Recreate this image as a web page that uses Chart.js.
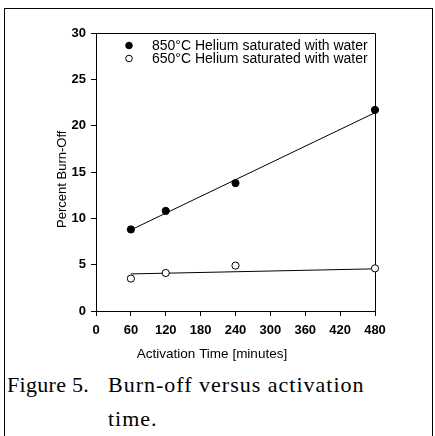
<!DOCTYPE html>
<html>
<head>
<meta charset="utf-8">
<script src="https://cdn.jsdelivr.net/npm/chart.js@4/dist/chart.umd.min.js"></script>
<style>
  html, body { margin: 0; padding: 0; background: #fff; width: 435px; height: 436px; overflow: hidden; }
  #frame { position: absolute; left: 4px; top: 8px; width: 427px; height: 460px;
           border-left: 1px solid #000; border-top: 1px solid #000; border-right: 1px solid #000; }
  #c { position: absolute; left: 0; top: 0; }
  .cap { position: absolute; font-family: "Liberation Serif", "Times New Roman", serif; font-size: 22px;
         letter-spacing: 1px; line-height: 22px; color: #000; white-space: nowrap; }
</style>
</head>
<body>
<div id="frame"></div>
<canvas id="c" width="435" height="370"></canvas>
<div class="cap" style="left:7px; top:374px; letter-spacing:0.3px;">Figure 5.</div>
<div class="cap" style="left:108px; top:374px;">Burn-off versus activation</div>
<div class="cap" style="left:108px; top:408px;">time.</div>
<script>
// ---- data ----
const times = [60, 120, 240, 480];
const burn850 = [8.8, 10.8, 13.8, 21.7];
const burn650 = [3.5, 4.1, 4.9, 4.6];
const fitTimes = [60, 480];
const fit850 = [8.75, 21.4];
const fit650 = [4.0, 4.55];
const seriesLabels = ["850°C Helium saturated with water", "650°C Helium saturated with water"];
const xTitle = "Activation Time [minutes]";
const yTitle = "Percent Burn-Off    ";
const xMin = 0, xMax = 480, xStep = 60;
const yMin = 0, yMax = 30, yStep = 5;

const toXY = (xs, ys) => xs.map((x, i) => ({ x: x, y: ys[i] }));
const SANS = '"Liberation Sans", Arial, Helvetica, sans-serif';

const framePlugin = {
  id: 'frameBox',
  beforeDatasetsDraw(chart) {
    const a = chart.chartArea, ctx = chart.ctx;
    ctx.save();
    ctx.strokeStyle = '#000';
    ctx.lineWidth = 1;
    ctx.beginPath();
    ctx.moveTo(Math.round(a.left) + 0.5, Math.round(a.top) + 0.5);
    ctx.lineTo(Math.round(a.right) + 0.5, Math.round(a.top) + 0.5);
    ctx.lineTo(Math.round(a.right) + 0.5, Math.round(a.bottom) + 0.5);
    ctx.stroke();
    ctx.restore();
  }
};

// x-axis title: in the original it sits left of the plot centre
const xTitlePlugin = {
  id: 'xTitleOffset',
  afterDraw(chart) {
    const a = chart.chartArea, ctx = chart.ctx;
    ctx.save();
    ctx.font = '13.5px ' + SANS;
    ctx.fillStyle = '#000';
    ctx.textAlign = 'center';
    ctx.textBaseline = 'middle';
    ctx.fillText(xTitle, a.left + 116, a.bottom + 43);
    ctx.restore();
  }
};

const legendPlugin = {
  id: 'innerLegend',
  afterDraw(chart) {
    const a = chart.chartArea, ctx = chart.ctx;
    const rows = [
      { ds: chart.data.datasets[0], y: a.top + 12.5 },
      { ds: chart.data.datasets[1], y: a.top + 25.5 }
    ];
    ctx.save();
    ctx.font = '14px ' + SANS;
    ctx.textBaseline = 'middle';
    ctx.textAlign = 'left';
    rows.forEach(r => {
      const mx = a.left + 33;
      ctx.beginPath();
      ctx.arc(mx, r.y, 3.3, 0, Math.PI * 2);
      ctx.fillStyle = r.ds.backgroundColor;
      ctx.fill();
      ctx.lineWidth = 1;
      ctx.strokeStyle = '#000';
      ctx.stroke();
      ctx.fillStyle = '#000';
      ctx.fillText(r.ds.label, a.left + 56, r.y + 1);
    });
    ctx.restore();
  }
};

new Chart(document.getElementById('c'), {
  type: 'scatter',
  data: {
    datasets: [
      { label: seriesLabels[0], data: toXY(times, burn850), backgroundColor: '#000', borderColor: '#000',
        borderWidth: 1, pointRadius: 3.6, order: 1, clip: false },
      { label: seriesLabels[1], data: toXY(times, burn650), backgroundColor: '#fff', borderColor: '#000',
        borderWidth: 1, pointRadius: 3.6, order: 1, clip: false },
      { label: 'fit850', data: toXY(fitTimes, fit850), showLine: true, borderColor: '#000', borderWidth: 1,
        pointRadius: 0, order: 2 },
      { label: 'fit650', data: toXY(fitTimes, fit650), showLine: true, borderColor: '#000', borderWidth: 1,
        pointRadius: 0, order: 2 }
    ]
  },
  options: {
    responsive: false,
    animation: false,
    devicePixelRatio: 1,
    layout: { padding: { left: 52, top: 33, right: 60, bottom: 0 } },
    plugins: { legend: { display: false }, tooltip: { enabled: false } },
    scales: {
      x: {
        type: 'linear', min: xMin, max: xMax,
        afterFit(s) { s.height = 59; },
        ticks: { stepSize: xStep, color: '#000', padding: 7, maxRotation: 0,
                 font: { family: SANS, size: 13, weight: 'bold' } },
        grid: { drawOnChartArea: false, drawTicks: true, tickLength: 5, color: '#000' },
        border: { display: true, color: '#000', width: 1 },
        title: { display: false, text: xTitle }
      },
      y: {
        type: 'linear', min: yMin, max: yMax,
        afterFit(s) { s.width = 44; },
        ticks: { stepSize: yStep, color: '#000', padding: 5,
                 font: { family: SANS, size: 13, weight: 'bold' } },
        grid: { drawOnChartArea: false, drawTicks: true, tickLength: 5, color: '#000' },
        border: { display: true, color: '#000', width: 1 },
        title: { display: true, text: yTitle, color: '#000', padding: { top: 3, bottom: 0 },
                 font: { family: SANS, size: 13 } }
      }
    }
  },
  plugins: [framePlugin, xTitlePlugin, legendPlugin]
});
</script>
</body>
</html>
